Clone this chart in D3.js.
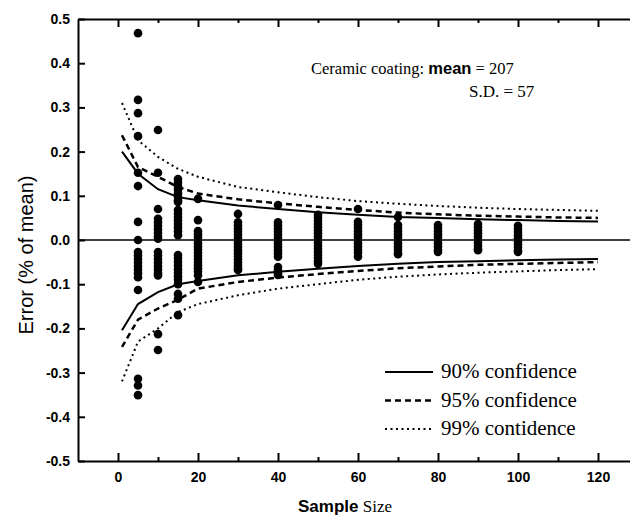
<!DOCTYPE html>
<html>
<head>
<meta charset="utf-8">
<script src="https://cdn.jsdelivr.net/npm/d3@7"></script>
<style>
  body { margin: 0; background: #fff; }
  svg { display: block; }
</style>
</head>
<body>
<script>
// Sample sizes where the confidence curves were evaluated
const curveN = [1, 5, 10, 15, 20, 30, 40, 50, 60, 70, 80, 90, 100, 110, 120];

// Confidence bounds (fraction of mean)
const up90 = [0.20, 0.15, 0.115, 0.097, 0.09, 0.078, 0.07, 0.063, 0.057, 0.052, 0.05, 0.047, 0.045, 0.043, 0.042];
const lo90 = [-0.204, -0.145, -0.118, -0.10, -0.093, -0.08, -0.072, -0.065, -0.059, -0.054, -0.05, -0.048, -0.046, -0.044, -0.043];
const up95 = [0.237, 0.165, 0.143, 0.12, 0.105, 0.092, 0.083, 0.075, 0.068, 0.062, 0.058, 0.055, 0.053, 0.051, 0.05];
const lo95 = [-0.242, -0.18, -0.155, -0.135, -0.11, -0.095, -0.085, -0.077, -0.07, -0.064, -0.06, -0.056, -0.054, -0.052, -0.05];
const up99 = [0.31, 0.226, 0.188, 0.161, 0.143, 0.12, 0.108, 0.097, 0.088, 0.082, 0.077, 0.073, 0.07, 0.068, 0.066];
const lo99 = [-0.32, -0.23, -0.2, -0.163, -0.145, -0.125, -0.11, -0.10, -0.09, -0.083, -0.078, -0.074, -0.071, -0.068, -0.066];

// Observed errors of sample means (one list per sample size)
const sampleN = [5, 10, 15, 20, 30, 40, 50, 60, 70, 80, 90, 100];
const errors = [
  [0.468, 0.317, 0.287, 0.235, 0.152, 0.122, 0.041, 0.0, -0.027, -0.035, -0.043, -0.051, -0.059, -0.067, -0.075, -0.084, -0.113, -0.314, -0.329, -0.351],
  [0.249, 0.152, 0.07, 0.048, 0.04, 0.032, 0.024, 0.016, 0.008, 0.003, -0.027, -0.035, -0.043, -0.051, -0.059, -0.067, -0.075, -0.08, -0.213, -0.249],
  [0.138, 0.13, 0.122, 0.114, 0.106, 0.098, 0.09, 0.086, 0.068, 0.06, 0.052, 0.044, 0.036, 0.028, 0.02, 0.011, -0.034, -0.042, -0.05, -0.058, -0.066, -0.074, -0.082, -0.09, -0.1, -0.122, -0.133, -0.17],
  [0.093, 0.045, 0.02, 0.013, 0.006, -0.001, -0.008, -0.015, -0.022, -0.029, -0.036, -0.043, -0.05, -0.057, -0.064, -0.071, -0.08, -0.095],
  [0.059, 0.04, 0.033, 0.026, 0.019, 0.012, 0.005, -0.002, -0.009, -0.016, -0.023, -0.03, -0.037, -0.044, -0.051, -0.058, -0.064, -0.068],
  [0.079, 0.04, 0.033, 0.026, 0.019, 0.012, 0.005, -0.002, -0.009, -0.016, -0.023, -0.03, -0.038, -0.061, -0.068, -0.075, -0.079],
  [0.057, 0.05, 0.043, 0.036, 0.029, 0.022, 0.015, 0.008, 0.001, -0.006, -0.013, -0.02, -0.027, -0.034, -0.041, -0.048, -0.054],
  [0.07, 0.041, 0.034, 0.027, 0.02, 0.013, 0.006, -0.001, -0.008, -0.015, -0.022, -0.029, -0.038],
  [0.052, 0.034, 0.027, 0.02, 0.013, 0.006, -0.001, -0.008, -0.015, -0.022, -0.029, -0.032],
  [0.034, 0.027, 0.02, 0.013, 0.006, -0.001, -0.008, -0.015, -0.022, -0.027],
  [0.036, 0.029, 0.022, 0.015, 0.008, 0.001, -0.006, -0.013, -0.02, -0.023],
  [0.032, 0.025, 0.018, 0.011, 0.004, -0.003, -0.01, -0.017, -0.024, -0.027]
];

const xTicks = [0, 20, 40, 60, 80, 100, 120];
const xMinor = [10, 30, 50, 70, 90, 110];
const yTicks = [-0.5, -0.4, -0.3, -0.2, -0.1, 0, 0.1, 0.2, 0.3, 0.4, 0.5];

const legendItems = [
  { label: "90% confidence", dash: null, width: 2 },
  { label: "95% confidence", dash: "6,4", width: 2.5 },
  { label: "99% contidence", dash: "2,3.5", width: 2 }
];

const W = 630, H = 517;
const margin = { top: 19, right: 0, bottom: 56, left: 78 };

const svg = d3.select("body").append("svg")
  .attr("width", W)
  .attr("height", H);

const x = d3.scaleLinear().domain([-10, 128]).range([margin.left, W - margin.right]);
const y = d3.scaleLinear().domain([-0.5, 0.5]).range([H - margin.bottom, margin.top]);

const sans = "'Liberation Sans', Arial, sans-serif";
const serif = "'Liberation Serif', 'Times New Roman', serif";

// axes
const axisB = svg.append("g")
  .attr("transform", `translate(0,${y(-0.5)})`)
  .call(d3.axisBottom(x).tickValues(xTicks).tickSize(-8).tickSizeOuter(0).tickPadding(11));
axisB.append("g")
  .call(d3.axisBottom(x).tickValues(xMinor).tickSize(-4).tickFormat(""))
  .select(".domain").remove();

const axisT = svg.append("g")
  .attr("transform", `translate(0,${y(0.5)})`)
  .call(d3.axisTop(x).tickValues(xTicks).tickSize(-8).tickSizeOuter(0).tickFormat(""));
axisT.append("g")
  .call(d3.axisTop(x).tickValues(xMinor).tickSize(-4).tickFormat(""))
  .select(".domain").remove();

svg.append("g")
  .attr("transform", `translate(${margin.left},0)`)
  .call(d3.axisLeft(y).tickValues(yTicks).tickSize(-7).tickSizeOuter(0).tickPadding(8)
    .tickFormat(d => d.toFixed(1)));

svg.selectAll(".domain").attr("stroke", "#000").attr("stroke-width", 2);
svg.selectAll(".tick line").attr("stroke", "#000").attr("stroke-width", 2);
svg.selectAll(".tick text")
  .attr("fill", "#000")
  .style("font-family", sans)
  .style("font-weight", "bold")
  .style("font-size", "14px");

// zero line
svg.append("line")
  .attr("x1", x(-10)).attr("x2", W)
  .attr("y1", y(0)).attr("y2", y(0))
  .attr("stroke", "#000")
  .attr("stroke-width", 1.6);

// confidence curves
const line = d3.line()
  .x((d, i) => x(curveN[i]))
  .y(d => y(d));

const curves = [
  { data: up90, style: legendItems[0] }, { data: lo90, style: legendItems[0] },
  { data: up95, style: legendItems[1] }, { data: lo95, style: legendItems[1] },
  { data: up99, style: legendItems[2] }, { data: lo99, style: legendItems[2] }
];

svg.append("g").selectAll("path")
  .data(curves)
  .join("path")
  .attr("d", d => line(d.data))
  .attr("fill", "none")
  .attr("stroke", "#000")
  .attr("stroke-width", d => d.style.width)
  .attr("stroke-dasharray", d => d.style.dash);

// sample points
const points = [];
sampleN.forEach((n, i) => errors[i].forEach(e => points.push({ n: n, e: e })));

svg.append("g").selectAll("circle")
  .data(points)
  .join("circle")
  .attr("cx", d => x(d.n))
  .attr("cy", d => y(d.e))
  .attr("r", 4.3)
  .attr("fill", "#000");

// axis titles
svg.append("text")
  .attr("transform", `translate(33,255) rotate(-90)`)
  .attr("text-anchor", "middle")
  .style("font-family", sans)
  .style("font-size", "20px")
  .text("Error (% of mean)");

const xt = svg.append("text")
  .attr("x", 345)
  .attr("y", 512)
  .attr("text-anchor", "middle")
  .style("font-size", "17px");
xt.append("tspan")
  .style("font-family", sans)
  .style("font-weight", "bold")
  .text("Sample");
xt.append("tspan")
  .style("font-family", serif)
  .text(" Size");

// annotation
const ann = svg.append("text")
  .attr("x", 311)
  .attr("y", 74)
  .style("font-family", serif)
  .style("font-size", "16.5px");
ann.append("tspan").text("Ceramic coating: ");
ann.append("tspan")
  .style("font-family", sans)
  .style("font-weight", "bold")
  .text("mean");
ann.append("tspan").text(" = 207");

svg.append("text")
  .attr("x", 469)
  .attr("y", 97)
  .style("font-family", serif)
  .style("font-size", "17px")
  .text("S.D.  = 57");

// legend
const legend = svg.append("g").attr("transform", "translate(385,378)");
const rows = legend.selectAll("g")
  .data(legendItems)
  .join("g")
  .attr("transform", (d, i) => `translate(0,${i * 28.5})`);
rows.append("line")
  .attr("x1", 0).attr("x2", 48)
  .attr("y1", -6).attr("y2", -6)
  .attr("stroke", "#000")
  .attr("stroke-width", d => d.width)
  .attr("stroke-dasharray", d => d.dash);
rows.append("text")
  .attr("x", 56)
  .attr("y", 0)
  .style("font-family", serif)
  .style("font-size", "21px")
  .text(d => d.label);
</script>
</body>
</html>
